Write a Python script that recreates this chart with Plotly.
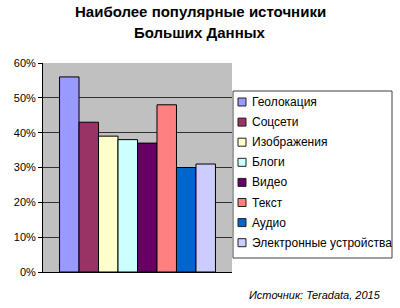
import plotly.graph_objects as go

categories = ["Геолокация", "Соцсети", "Изображения", "Блоги", "Видео", "Текст", "Аудио", "Электронные устройства"]
values = [56, 43, 39, 38, 37, 48, 30, 31]
colors = ["#9999FF", "#993366", "#FFFFCC", "#CCFFFF", "#660066", "#FF8080", "#0066CC", "#CCCCFF"]
y_ticks = [0, 10, 20, 30, 40, 50, 60]
y_tick_labels = ["0%", "10%", "20%", "30%", "40%", "50%", "60%"]

W, H = 400, 308
L, R, T, B = 43, 232, 63, 272  # plot area in pixels


def px(x):
    return (x - L) / (R - L)


def py(y):
    return (B - y) / (B - T)


fig = go.Figure()
for name, v, c in zip(categories, values, colors):
    fig.add_trace(go.Bar(
        x=[""], y=[v], name=name,
        marker=dict(color=c, line=dict(color="#000000", width=1)),
        showlegend=False,
    ))

shapes = []
annotations = []

# legend box
shapes.append(dict(type="rect", xref="paper", yref="paper",
                   x0=px(233), x1=px(392), y0=py(258), y1=py(91),
                   line=dict(color="#404040", width=1), fillcolor="white", layer="above"))
for i, (name, c) in enumerate(zip(categories, colors)):
    yc = 102 + i * 20.1
    shapes.append(dict(type="rect", xref="paper", yref="paper",
                       x0=px(238), x1=px(246), y0=py(yc + 4), y1=py(yc - 4),
                       line=dict(color="#202020", width=1), fillcolor=c, layer="above"))
    annotations.append(dict(text=name, x=px(250), y=py(yc), xref="paper", yref="paper",
                            xanchor="left", yanchor="middle", showarrow=False,
                            font=dict(size=12, color="#000000")))

annotations.append(dict(text="<b>Наиболее популярные источники</b>",
                        x=px(200), y=py(12), xref="paper", yref="paper",
                        xanchor="center", yanchor="middle", showarrow=False,
                        font=dict(size=15, color="#000000")))
annotations.append(dict(text="<b>Больших Данных</b>",
                        x=px(200), y=py(33), xref="paper", yref="paper",
                        xanchor="center", yanchor="middle", showarrow=False,
                        font=dict(size=15, color="#000000")))
annotations.append(dict(text="<i>Источник: Teradata, 2015</i>",
                        x=px(383), y=py(295), xref="paper", yref="paper",
                        xanchor="right", yanchor="middle", showarrow=False,
                        font=dict(size=11, color="#000000")))

fig.update_layout(
    width=W, height=H,
    margin=dict(l=L, r=W - R, t=T, b=H - B),
    barmode="group", bargap=0.175, bargroupgap=0,
    paper_bgcolor="white", plot_bgcolor="#C0C0C0",
    font=dict(family="Liberation Sans, Arial, sans-serif", size=11, color="#000000"),
    showlegend=False,
    shapes=shapes,
    annotations=annotations,
    xaxis=dict(showticklabels=False, showline=True, linecolor="#000000", linewidth=1,
               showgrid=False, zeroline=False, fixedrange=True),
    yaxis=dict(range=[0, 60], tickvals=y_ticks, ticktext=y_tick_labels,
               showline=True, linecolor="#000000", linewidth=1,
               ticks="outside", ticklen=4, tickcolor="#000000",
               showgrid=True, gridcolor="#303030", gridwidth=1, zeroline=False),
)

fig.write_html("out.html")
